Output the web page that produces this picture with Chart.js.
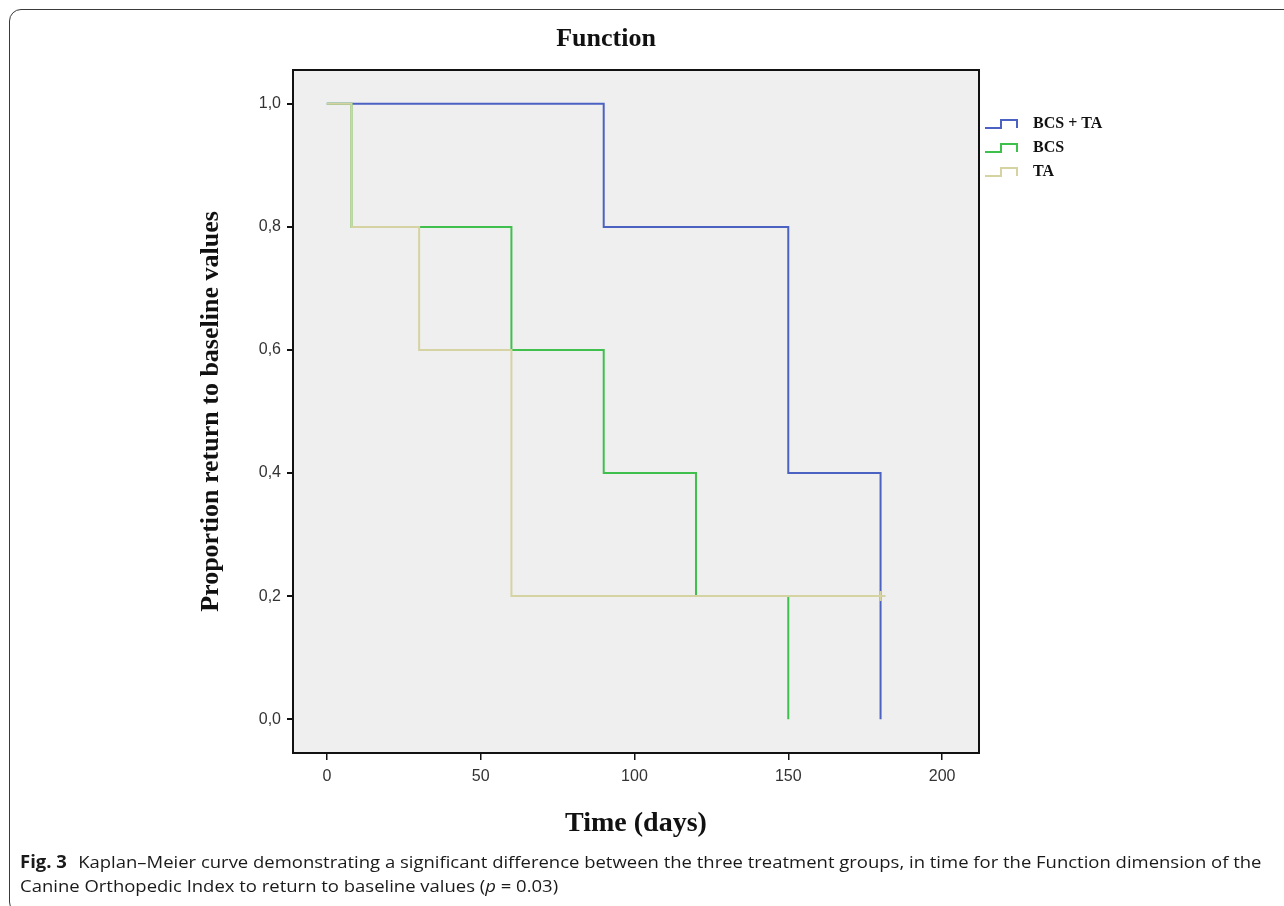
<!DOCTYPE html>
<html><head><meta charset="utf-8">
<script src="https://cdn.jsdelivr.net/npm/chart.js@4.4.0/dist/chart.umd.min.js"></script>
<style>
html,body{margin:0;padding:0;background:#fff;width:1284px;height:906px;overflow:hidden;position:relative;}
#frame{position:absolute;left:9px;top:9px;width:1320px;height:905px;border:1.5px solid #3a3a3a;border-radius:12px;box-sizing:border-box;}
#wrap{position:absolute;left:0;top:0;width:1284px;height:906px;}
#title{position:absolute;top:20px;left:0;width:1212px;line-height:36px;text-align:center;font-family:"Liberation Serif";font-weight:bold;font-size:26px;color:#111;}
#caption{position:absolute;left:20px;top:850px;font-family:"Open Sans";font-size:17px;line-height:24px;color:#1a1a1a;white-space:nowrap;transform-origin:0 0;}
#caption b{font-weight:bold;margin-right:6px;}
</style></head>
<body>
<div id="frame"></div>
<div id="wrap"><canvas id="c" width="1284" height="906"></canvas></div>
<div id="title">Function</div>
<div id="caption"><div id="cap1"><b>Fig. 3</b> Kaplan–Meier curve demonstrating a significant difference between the three treatment groups, in time for the Function dimension of the</div><div>Canine Orthopedic Index to return to baseline values (<i>p</i> = 0.03)</div></div>
<script>
// ---- data ----
const seriesNames = ['BCS + TA', 'BCS', 'TA'];
const bcsTaDays = [0, 90, 150, 180];
const bcsTaSurv = [1.0, 0.8, 0.4, 0.0];
const bcsDays = [0, 8, 60, 90, 120, 150];
const bcsSurv = [1.0, 0.8, 0.6, 0.4, 0.2, 0.0];
const taDays = [0, 8, 30, 60, 180];
const taSurv = [1.0, 0.8, 0.6, 0.2, 0.2];
const taCensored = [false, false, false, false, true];
const xTickValues = [0, 50, 100, 150, 200];
const xTickLabels = ['0', '50', '100', '150', '200'];
const yTickValues = [0, 0.2, 0.4, 0.6, 0.8, 1.0];
const yTickLabels = ['0,0', '0,2', '0,4', '0,6', '0,8', '1,0'];

const toPts = (xs, ys) => xs.map((x, i) => ({x: x, y: ys[i]}));

const plotFrame = {
  id: 'plotFrame',
  beforeDatasetsDraw(chart) {
    const a = chart.chartArea, ctx = chart.ctx;
    ctx.save(); ctx.fillStyle = '#efefef';
    ctx.fillRect(a.left, a.top, a.right - a.left, a.bottom - a.top);
    ctx.restore();
  },
  afterDraw(chart) {
    const a = chart.chartArea, ctx = chart.ctx;
    ctx.save(); ctx.strokeStyle = '#111'; ctx.lineWidth = 2;
    ctx.strokeRect(a.left, a.top, a.right - a.left, a.bottom - a.top);
    ctx.restore();
  }
};

const stepLegend = {
  id: 'stepLegend',
  afterDraw(chart) {
    const ctx = chart.ctx, a = chart.chartArea;
    const x0 = a.right + 6;
    chart.data.datasets.forEach((ds, i) => {
      const y = a.top + 54 + i * 24;
      ctx.save();
      ctx.strokeStyle = ds.borderColor; ctx.lineWidth = 2;
      ctx.beginPath();
      ctx.moveTo(x0, y + 4); ctx.lineTo(x0 + 16, y + 4); ctx.lineTo(x0 + 16, y - 4);
      ctx.lineTo(x0 + 32, y - 4); ctx.lineTo(x0 + 32, y + 4);
      ctx.stroke();
      ctx.fillStyle = '#111'; ctx.font = 'bold 16px "Liberation Serif"';
      ctx.textBaseline = 'middle'; ctx.textAlign = 'left';
      ctx.fillText(ds.label, x0 + 48, y);
      ctx.restore();
    });
  }
};

new Chart(document.getElementById('c'), {
  type: 'line',
  data: {
    datasets: [
      {label: seriesNames[0], data: toPts(bcsTaDays, bcsTaSurv), borderColor: '#4c62c2', stepped: 'before', borderWidth: 2, pointRadius: 0, order: 3},
      {label: seriesNames[1], data: toPts(bcsDays, bcsSurv), borderColor: '#3fbf4c', stepped: 'before', borderWidth: 2, pointRadius: 0, order: 2},
      {label: seriesNames[2], data: toPts(taDays, taSurv), borderColor: '#d6d3a2', backgroundColor: '#d6d3a2', stepped: 'before', borderWidth: 2,
        pointRadius: taCensored.map(c => c ? 5 : 0), pointStyle: 'cross', pointBorderWidth: 2, pointBorderColor: '#d6d3a2', order: 1}
    ]
  },
  options: {
    responsive: false, animation: false,
    layout: {padding: {left: 0, top: 70, right: 305, bottom: 65}},
    plugins: {legend: {display: false}, title: {display: false}, tooltip: {enabled: false}},
    scales: {
      x: {
        type: 'linear', min: -11, max: 212,
        afterBuildTicks: s => { s.ticks = xTickValues.map(v => ({value: v})); },
        afterFit: s => { s.height = 88; },
        ticks: {callback: (v, i) => xTickLabels[i], color: '#333', font: {family: 'Liberation Sans', size: 16}, padding: 7, maxRotation: 0},
        grid: {drawOnChartArea: false, drawTicks: true, tickLength: 7, color: '#111', lineWidth: 1.5},
        border: {display: false},
        title: {display: true, text: 'Time (days)', color: '#111', font: {family: 'Liberation Serif', size: 28, weight: 'bold'}, padding: {top: 0, bottom: 0}}
      },
      y: {
        type: 'linear', min: -0.055, max: 1.055,
        afterBuildTicks: s => { s.ticks = yTickValues.map(v => ({value: v})); },
        afterFit: s => { s.width = 293; },
        ticks: {callback: (v, i) => yTickLabels[i], color: '#333', font: {family: 'Liberation Sans', size: 16}, padding: 6},
        grid: {drawOnChartArea: false, drawTicks: true, tickLength: 6, color: '#111', lineWidth: 2},
        border: {display: false},
        title: {display: true, text: 'Proportion return to baseline values', color: '#111', font: {family: 'Liberation Serif', size: 26, weight: 'bold'}, padding: {top: 196, bottom: 0}}
      }
    }
  },
  plugins: [plotFrame, stepLegend]
});

// fit caption width
const cap = document.getElementById('caption');
const w = document.getElementById('cap1').scrollWidth;
cap.style.transform = 'scaleX(' + (1241 / w) + ')';
</script>
</body></html>
